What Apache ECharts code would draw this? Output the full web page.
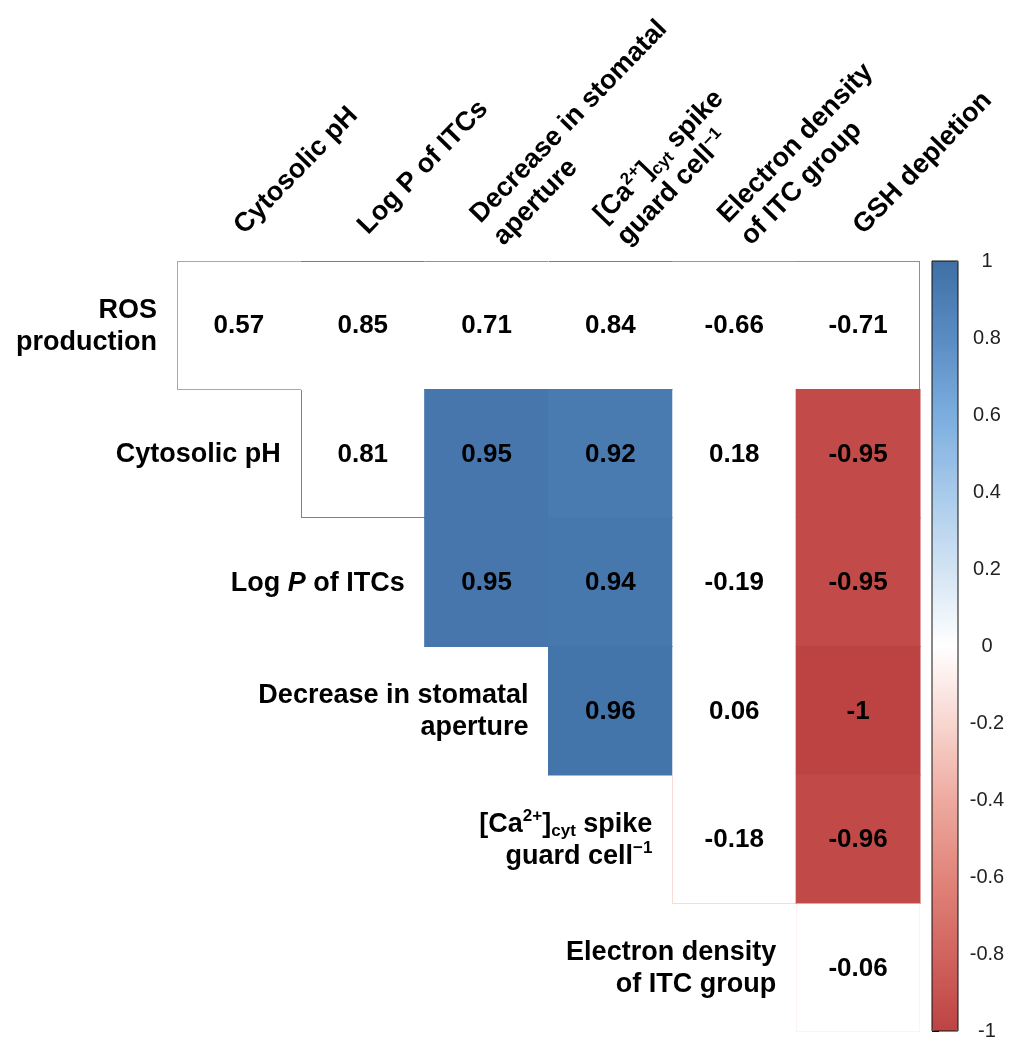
<!DOCTYPE html>
<html>
<head>
<meta charset="utf-8">
<script src="https://cdn.jsdelivr.net/npm/echarts@6/dist/echarts.min.js"></script>
<style>
  html, body { margin: 0; padding: 0; background: #fff; }
  #chart { width: 1014px; height: 1044px; }
</style>
</head>
<body>
<div id="chart"></div>
<script>
// Variables (rows: top to bottom, columns: left to right)
const rowNames = ['ROS production', 'Cytosolic pH', 'Log P of ITCs', 'Decrease in stomatal aperture',
  '[Ca2+]cyt spike guard cell-1', 'Electron density of ITC group'];
const colNames = ['Cytosolic pH', 'Log P of ITCs', 'Decrease in stomatal aperture',
  '[Ca2+]cyt spike guard cell-1', 'Electron density of ITC group', 'GSH depletion'];

// Displayed (rich text) labels
const rowLabelText = ['ROS\nproduction', 'Cytosolic pH', 'Log {i|P} of ITCs',
  'Decrease in stomatal\naperture', '[Ca{sup|2+}]{sub|cyt} spike\nguard cell{sup|−1}',
  'Electron density\nof ITC group'];
const colLabelText = ['Cytosolic pH', 'Log P of ITCs', 'Decrease in stomatal\naperture',
  '[Ca{sup|2+}]{sub|cyt} spike\nguard cell{sup|−1}', 'Electron density\nof ITC group', 'GSH depletion'];

// Pearson correlation coefficients (upper triangle)
const corrROS      = [0.57, 0.85, 0.71, 0.84, -0.66, -0.71];
const corrPH       = [null, 0.81, 0.95, 0.92, 0.18, -0.95];
const corrLogP     = [null, null, 0.95, 0.94, -0.19, -0.95];
const corrStomatal = [null, null, null, 0.96, 0.06, -1];
const corrCa       = [null, null, null, null, -0.18, -0.96];
const corrElectron = [null, null, null, null, null, -0.06];

// Significant correlations (1 = significant, 0 = not)
const sigROS      = [0, 0, 0, 0, 0, 0];
const sigPH       = [0, 0, 1, 1, 0, 1];
const sigLogP     = [0, 0, 1, 1, 0, 1];
const sigStomatal = [0, 0, 0, 1, 0, 1];
const sigCa       = [0, 0, 0, 0, 0, 1];
const sigElectron = [0, 0, 0, 0, 0, 0];

// Colour scale from -1 to 1
const scaleColors = ['#bd4343', '#d1645f', '#e1857b', '#eeaa9f', '#f8d6d0', '#ffffff',
  '#d2e3f3', '#a7caeb', '#7badde', '#5a8cc4', '#3f6fa3'];

const corrRows = [corrROS, corrPH, corrLogP, corrStomatal, corrCa, corrElectron];
const sigRows = [sigROS, sigPH, sigLogP, sigStomatal, sigCa, sigElectron];

const cells = [];
corrRows.forEach((vals, r) => vals.forEach((v, c) => {
  if (v !== null) cells.push([c, r, v, sigRows[r][c]]);
}));

function exists(r, c) {
  return r >= 0 && r < corrRows.length && c >= 0 && c < colNames.length && corrRows[r][c] !== null;
}

const FONT = '"Liberation Sans", Arial, sans-serif';
const ROW_FS = 27, COL_FS = 27;
const labelRich = {
  i: { fontStyle: 'italic', fontSize: ROW_FS, fontWeight: 'bold', fontFamily: FONT, color: '#000', lineHeight: 32 },
  sup: { fontSize: 17, fontWeight: 'bold', fontFamily: FONT, color: '#000', verticalAlign: 'top', lineHeight: 32 },
  sub: { fontSize: 17, fontWeight: 'bold', fontFamily: FONT, color: '#000', verticalAlign: 'bottom', lineHeight: 26 }
};

function renderCell(params, api) {
  const c = api.value(0), r = api.value(1), v = api.value(2), s = api.value(3);
  const p = api.coord([c, r]);
  const size = api.size([1, 1]);
  const w = size[0], h = size[1];
  const x0 = p[0] - w / 2, y0 = p[1] - h / 2;
  const color = api.visual('color');
  const children = [];

  if (s) {
    children.push({
      type: 'rect',
      shape: { x: x0 - 0.5, y: y0 - 0.5, width: w + 1, height: h + 1 },
      style: { fill: color }
    });
  } else {
    children.push({
      type: 'rect',
      shape: { x: x0, y: y0, width: w, height: h },
      style: { fill: '#fff' }
    });
    // Outline only the sides that face the empty half of the matrix
    const L = Math.round(x0), R = Math.round(x0 + w) - 1;
    const T = Math.round(y0), B = Math.round(y0 + h) - 1;
    const W = R - L + 1, H = B - T + 1;
    const edges = [];
    if (!exists(r - 1, c)) edges.push([L, T, W, 1]);
    if (!exists(r + 1, c)) edges.push([L, B, W, 1]);
    if (!exists(r, c - 1)) edges.push([L, T, 1, H]);
    if (!exists(r, c + 1)) edges.push([R, T, 1, H]);
    edges.forEach(e => children.push({
      type: 'rect',
      shape: { x: e[0], y: e[1], width: e[2], height: e[3] },
      style: { fill: color }
    }));
  }

  children.push({
    type: 'text',
    x: p[0], y: p[1] + 1,
    style: {
      text: String(v), align: 'center', verticalAlign: 'middle',
      fontSize: 26, fontWeight: 'bold', fontFamily: FONT, fill: '#000'
    }
  });

  // Row label sits in the empty space left of the first cell of each row
  if (c === r) {
    children.push({
      type: 'text',
      x: x0 - 20, y: p[1] + 1,
      style: {
        text: rowLabelText[r], align: 'right', verticalAlign: 'middle',
        fontSize: ROW_FS, fontWeight: 'bold', fontFamily: FONT, fill: '#000',
        lineHeight: 32, rich: labelRich
      }
    });
  }
  return { type: 'group', children: children };
}

const chart = echarts.init(document.getElementById('chart'), null, { renderer: 'canvas' });
chart.setOption({
  backgroundColor: '#fff',
  animation: false,
  grid: [
    { left: 177, top: 261, width: 743, height: 771, outerBoundsMode: 'none', containLabel: false },
    { left: 932, top: 261, width: 26, height: 770, show: true, z: 10, outerBoundsMode: 'none',
      containLabel: false, backgroundColor: 'transparent', borderColor: '#111', borderWidth: 1 }
  ],
  xAxis: [
    {
      type: 'category', gridIndex: 0, data: colNames, position: 'top', z: 20,
      axisLine: { show: false }, axisTick: { show: false }, splitLine: { show: false },
      axisLabel: {
        interval: 0, rotate: -46, margin: 31, align: 'left', verticalAlign: 'middle',
        fontSize: COL_FS, fontWeight: 'bold', fontFamily: FONT, color: '#000', lineHeight: 32,
        rich: labelRich,
        formatter: (val, idx) => colLabelText[idx]
      }
    },
    { type: 'value', gridIndex: 1, show: false, min: 0, max: 1 }
  ],
  yAxis: [
    {
      type: 'category', gridIndex: 0, data: rowNames, inverse: true,
      axisLine: { show: false }, axisTick: { show: false }, axisLabel: { show: false },
      splitLine: { show: false }
    },
    {
      type: 'value', gridIndex: 1, position: 'right', min: -1, max: 1, interval: 0.2,
      axisLine: { show: false }, splitLine: { show: false },
      axisTick: { show: true, length: 7, lineStyle: { color: '#111', width: 1 } },
      axisLabel: {
        margin: 29, align: 'center', fontSize: 20, fontFamily: FONT, color: '#222',
        formatter: v => String(Math.round(v * 10) / 10)
      }
    }
  ],
  visualMap: {
    type: 'continuous', min: -1, max: 1, seriesIndex: 0, dimension: 2,
    orient: 'vertical', left: 932, top: 261, itemWidth: 26, itemHeight: 770,
    padding: 0, calculable: false, hoverLink: false, text: null,
    inRange: { color: scaleColors }
  },
  series: [{
    type: 'custom',
    xAxisIndex: 0, yAxisIndex: 0,
    data: cells,
    encode: { x: 0, y: 1 },
    renderItem: renderCell
  }]
});
</script>
</body>
</html>
